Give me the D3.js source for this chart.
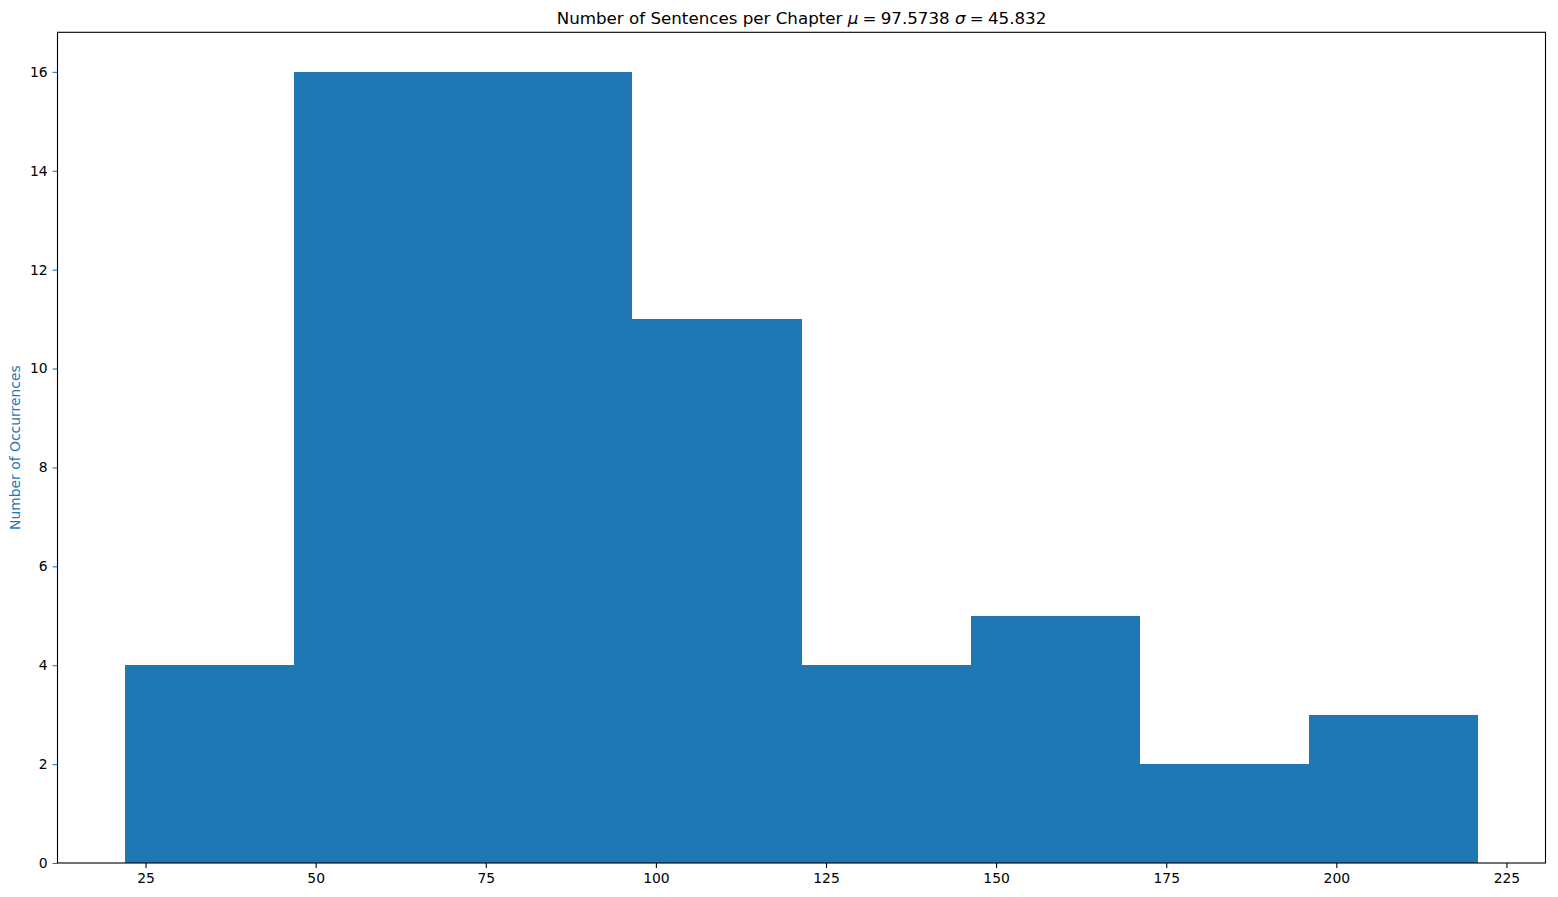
<!DOCTYPE html>
<html><head><meta charset="utf-8">
<script src="https://cdn.jsdelivr.net/npm/d3@7"></script>
<style>body{margin:0;background:#fff}svg{display:block}text{font-family:"DejaVu Sans",sans-serif}</style>
</head><body>
<script>
const binEdges = [22.0, 46.85, 71.7, 96.55, 121.4, 146.25, 171.1, 195.95, 220.8];
const counts = [4, 16, 16, 11, 4, 5, 2, 3];
const xTicks = [25, 50, 75, 100, 125, 150, 175, 200, 225];
const yTicks = [0, 2, 4, 6, 8, 10, 12, 14, 16];
const titleText = "Number of Sentences per Chapter ";
const yLabel = "Number of Occurrences";

const W = 1558, H = 897;
const m = {left: 57.5, right: 1545.5, top: 32.3, bottom: 863};
const svg = d3.select("body").append("svg").attr("width", W).attr("height", H);
const span = binEdges[binEdges.length-1] - binEdges[0];
const x = d3.scaleLinear().domain([binEdges[0] - span*0.05, binEdges[binEdges.length-1] + span*0.05]).range([m.left, m.right]);
const ymax = d3.max(counts) * 1.05;
const y = d3.scaleLinear().domain([0, ymax]).range([m.bottom, m.top]);
const bins = counts.map((c, i) => ({x0: binEdges[i], x1: binEdges[i+1], c}));

svg.append("g").selectAll("rect").data(bins).join("rect")
  .attr("x", d => x(d.x0)).attr("width", d => x(d.x1) - x(d.x0))
  .attr("y", d => y(d.c)).attr("height", d => y(0) - y(d.c))
  .attr("fill", "#1f77b4").attr("shape-rendering", "crispEdges");

const xa = svg.append("g").attr("transform", `translate(0,${m.bottom})`)
  .call(d3.axisBottom(x).tickValues(xTicks).tickSize(4.9).tickPadding(4.9).tickFormat(d3.format("d")));
xa.select(".domain").remove();
xa.selectAll("text").attr("font-size", "13.9px").attr("fill", "#000").style("font-family", "DejaVu Sans");
xa.selectAll("line").attr("stroke", "#000").attr("stroke-width", 1.1);

const ya = svg.append("g").attr("transform", `translate(${m.left},0)`)
  .call(d3.axisLeft(y).tickValues(yTicks).tickSize(4.9).tickPadding(4.9).tickFormat(d3.format("d")));
ya.select(".domain").remove();
ya.selectAll("text").attr("font-size", "13.9px").attr("fill", "#000").style("font-family", "DejaVu Sans");
ya.selectAll("line").attr("stroke", "#1f77b4").attr("stroke-width", 1.1);

svg.append("rect").attr("x", m.left).attr("y", m.top).attr("width", m.right - m.left).attr("height", m.bottom - m.top)
  .attr("fill", "none").attr("stroke", "#000").attr("stroke-width", 1.1);

const t = svg.append("text").attr("x", (m.left + m.right)/2).attr("y", 24).attr("text-anchor", "middle")
  .attr("font-size", "16.7px").attr("fill", "#000");
t.append("tspan").text(titleText);
t.append("tspan").attr("font-style", "italic").text("μ");
t.append("tspan").text("\u2005=\u200597.5738 ");
t.append("tspan").attr("font-style", "italic").text("σ");
t.append("tspan").text("\u2005=\u200545.832");

svg.append("text").attr("transform", `translate(19.5,${(m.top + m.bottom)/2}) rotate(-90)`)
  .attr("text-anchor", "middle").attr("font-size", "13.9px").attr("fill", "#1f77b4").text(yLabel);
</script>
</body></html>
